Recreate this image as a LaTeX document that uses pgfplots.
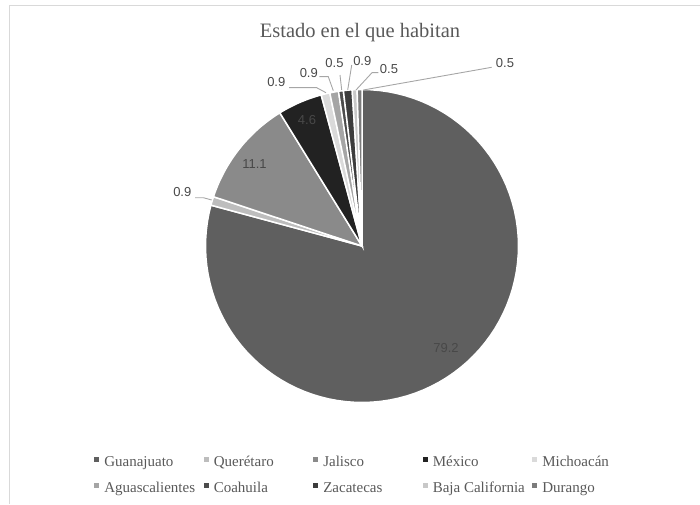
\documentclass[border=0pt]{standalone}
\usepackage{pgfplots}
\pgfplotsset{compat=1.18}
\usepackage{pgfplotstable}
\usepackage{fontspec}
\setmainfont{Liberation Serif}
\newfontfamily\labfont{Liberation Sans}

\definecolor{c0}{HTML}{5F5F5F}
\definecolor{c1}{HTML}{BDBDBD}
\definecolor{c2}{HTML}{8A8A8A}
\definecolor{c3}{HTML}{222222}
\definecolor{c4}{HTML}{DADADA}
\definecolor{c5}{HTML}{A5A5A5}
\definecolor{c6}{HTML}{4C4C4C}
\definecolor{c7}{HTML}{3C3C3C}
\definecolor{c8}{HTML}{C8C8C8}
\definecolor{c9}{HTML}{7C7C7C}
\definecolor{txt}{HTML}{595959}
\definecolor{lbl}{HTML}{484848}
\definecolor{lead}{HTML}{A6A6A6}
\definecolor{framec}{HTML}{D9D9D9}

% Estado en el que habitan (porcentaje)
\pgfplotstableread{
idx pct
0 79.2
1 0.9
2 11.1
3 4.6
4 0.9
5 0.9
6 0.5
7 0.9
8 0.5
9 0.5
}\piedata

\newcommand{\lgd}[1]{\makebox[104.5pt][l]{\strut\hspace*{5pt}#1}}

\begin{document}
\begin{tikzpicture}[x=1pt,y=1pt]
\useasboundingbox (0,0) rectangle (700,504);
\draw[framec, line width=1.3pt] (9.7,0) -- (9.7,498.5) -- (700,498.5);
\node[anchor=base, font=\fontsize{20.5}{24}\selectfont, text=txt, inner sep=0pt] at (360,466.7) {Estado en el que habitan};
\begin{axis}[
  at={(362pt,258pt)}, anchor=center,
  scale only axis, width=313pt, height=313pt,
  xmin=-1, xmax=1, ymin=-1, ymax=1,
  hide axis, clip=false,
  legend columns=5,
  legend style={draw=none, fill=none, inner sep=0pt, outer sep=0pt,
    column sep=0pt, row sep=12pt,
    nodes={inner sep=0pt, outer sep=0pt},
    font=\fontsize{15}{18}\selectfont, text=txt,
    at={(-0.3553,-0.1636)}, anchor=north west},
  legend image code/.code={\fill[#1,draw=none] (0pt,-1.2pt) rectangle (5pt,3.8pt);},
  legend entries={\lgd{Guanajuato},\lgd{Querétaro},\lgd{Jalisco},\lgd{México},\lgd{Michoacán},
    \lgd{Aguascalientes},\lgd{Coahuila},\lgd{Zacatecas},\lgd{Baja California},\lgd{Durango}},
]
\gdef\cum{0}
\pgfplotsinvokeforeach{0,...,9}{%
  \pgfplotstablegetelem{#1}{pct}\of\piedata
  \pgfmathsetmacro\sA{90-3.6*\cum}%
  \pgfmathsetmacro\eA{90-3.6*(\cum+\pgfplotsretval)}%
  \pgfmathsetmacro\ncum{\cum+\pgfplotsretval}%
  \global\let\cum\ncum
  \edef\doslice{\noexpand\addplot[fill=c#1, draw=white, line width=1.5pt, domain=\eA:\sA, samples=90] ({cos(x)},{sin(x)}) -- (axis cs:0,0) -- cycle;}%
  \doslice
}
\end{axis}
\begin{scope}[lead, line width=0.9pt]
\draw (195,306.3) -- (203.3,306.3) -- (211.7,304);
\draw (289,416.3) -- (316.7,416.3) -- (326,411.3);
\draw (319.3,427.3) -- (328.3,427.3) -- (333.3,413.3);
\draw (340,429) -- (341.7,414);
\draw (351.7,439) -- (347.7,414);
\draw (378.3,431.3) -- (372,431.3) -- (356,414);
\draw (491.7,436.7) -- (363.3,414);
\end{scope}
\begin{scope}[font=\labfont\fontsize{13}{15}\selectfont, text=lbl]
\node at (446,156) {79.2};
\node at (254.5,339.7) {11.1};
\node at (307,383.5) {4.6};
\node at (182.3,311.7) {0.9};
\node at (276.3,422.2) {0.9};
\node at (308.8,431.2) {0.9};
\node at (334.5,441.2) {0.5};
\node at (362.3,442.7) {0.9};
\node at (389,435.3) {0.5};
\node at (505,441.2) {0.5};
\end{scope}
\end{tikzpicture}
\end{document}
